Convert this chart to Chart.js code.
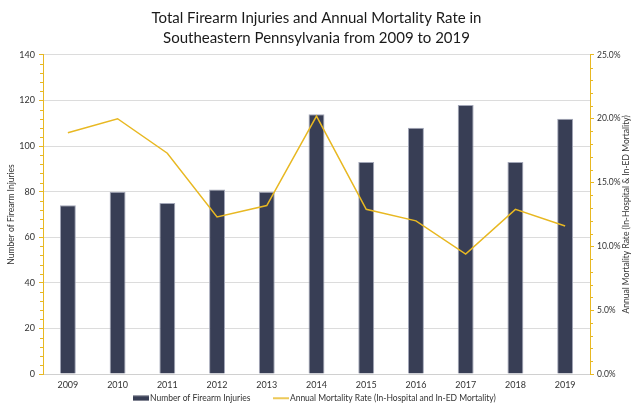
<!DOCTYPE html>
<html>
<head>
<meta charset="utf-8">
<script src="https://cdn.jsdelivr.net/npm/chart.js@4"></script>
<style>
  html, body { margin: 0; padding: 0; background: #fff; }
  #wrap { width: 633px; height: 404px; }
</style>
</head>
<body>
<div id="wrap"><canvas id="myChart" width="633" height="404"></canvas></div>
<script>
// du lieu bieu do
var years = ["2009", "2010", "2011", "2012", "2013", "2014", "2015", "2016", "2017", "2018", "2019"];
var injuries = [74, 80, 75, 81, 80, 114, 93, 108, 118, 93, 112];
var mortalityRate = [18.9, 20.0, 17.3, 12.3, 13.2, 20.2, 12.9, 12.0, 9.4, 12.9, 11.6];
var leftTicks = [0, 20, 40, 60, 80, 100, 120, 140];
var rightTicks = [0, 5, 10, 15, 20, 25];
var rightTitle = 'Annual Mortality Rate (In-Hospital & In-ED Mortality)';

var navy = '#383e55';
var gold = '#e8b822';
var fontName = 'Lato, "Open Sans", sans-serif';

// hinh cho chu thich
function legendIcon(color, h) {
    var c = document.createElement('canvas');
    c.width = 16; c.height = 6;
    var ctx = c.getContext('2d');
    ctx.fillStyle = color;
    ctx.fillRect(0, (6 - h) / 2, 16, h);
    return c;
}

// vach phu tren truc + tieu de truc phai (doc tu duoi len)
var extras = {
    id: 'extras',
    afterDraw: function (chart) {
        var ctx = chart.ctx;
        ctx.save();
        ctx.strokeStyle = gold;
        ctx.lineWidth = 1;
        var y1 = chart.scales.y1;
        for (var v = 0; v <= 140; v += 4) {
            if (v % 20 === 0) continue;
            var p = Math.round(y1.getPixelForValue(v)) + 0.5;
            ctx.beginPath();
            ctx.moveTo(y1.right - 3, p);
            ctx.lineTo(y1.right, p);
            ctx.stroke();
        }
        var y2 = chart.scales.y2;
        for (var r = 0; r <= 25; r += 1) {
            if (r % 5 === 0) continue;
            var q = Math.round(y2.getPixelForValue(r)) + 0.5;
            ctx.beginPath();
            ctx.moveTo(y2.left, q);
            ctx.lineTo(y2.left + 3, q);
            ctx.stroke();
        }
        ctx.translate(y2.right - 7, (chart.chartArea.top + chart.chartArea.bottom) / 2);
        ctx.rotate(-Math.PI / 2);
        ctx.fillStyle = '#333';
        ctx.font = '8.5px ' + fontName;
        ctx.textAlign = 'center';
        ctx.textBaseline = 'middle';
        ctx.fillText(rightTitle, 0, 0);
        ctx.restore();
    }
};

var config = {
    type: 'bar',
    data: {
        labels: years,
        datasets: [
            {
                type: 'line',
                label: 'Annual Mortality Rate (In-Hospital and In-ED Mortality)',
                data: mortalityRate,
                yAxisID: 'y2',
                borderColor: gold,
                backgroundColor: gold,
                borderWidth: 1.5,
                pointRadius: 0,
                tension: 0,
                pointStyle: legendIcon(gold, 1.5),
                order: 1
            },
            {
                type: 'bar',
                label: 'Number of Firearm Injuries',
                data: injuries,
                yAxisID: 'y1',
                backgroundColor: navy,
                borderColor: '#a3a7b8',
                borderWidth: 1,
                barPercentage: 0.32,
                categoryPercentage: 1,
                pointStyle: legendIcon(navy, 5),
                order: 2
            }
        ]
    },
    options: {
        responsive: false,
        animation: false,
        layout: { padding: 0 },
        plugins: {
            title: {
                display: true,
                text: ['Total Firearm Injuries and Annual Mortality Rate in', 'Southeastern Pennsylvania from 2009 to 2019'],
                color: '#1a1a1a',
                font: { family: fontName, size: 15, weight: 'normal', lineHeight: 1.33 },
                padding: { top: 8, bottom: 7 }
            },
            legend: {
                position: 'bottom',
                reverse: true,
                maxHeight: 15,
                labels: {
                    usePointStyle: true,
                    color: '#333',
                    font: { family: fontName, size: 8.5 },
                    boxHeight: 6,
                    padding: 5,
                    generateLabels: function (chart) {
                        var items = Chart.defaults.plugins.legend.labels.generateLabels(chart);
                        items.forEach(function (it) {
                            if (it.datasetIndex === 1) it.text = it.text + '          ';
                        });
                        return items;
                    }
                }
            },
            tooltip: { enabled: false }
        },
        scales: {
            x: {
                grid: { display: false, drawTicks: false },
                border: { color: '#d0d0d0' },
                ticks: { color: '#333', font: { family: fontName, size: 9 }, padding: 6 },
                afterFit: function (axis) { axis.height = 15; }
            },
            y1: {
                position: 'left',
                min: 0,
                max: 140,
                afterBuildTicks: function (axis) {
                    axis.ticks = leftTicks.map(function (v) { return { value: v }; });
                },
                afterFit: function (axis) { axis.width = 43; },
                grid: { color: '#dcdcdc', lineWidth: 1, tickColor: gold, tickLength: 4 },
                border: { color: gold },
                ticks: { color: '#333', font: { family: fontName, size: 9 }, padding: 4 },
                title: {
                    display: true,
                    text: 'Number of Firearm Injuries',
                    color: '#333',
                    font: { family: fontName, size: 8.5 },
                    padding: { top: 6, bottom: 0 }
                }
            },
            y2: {
                position: 'right',
                min: 0,
                max: 25,
                afterBuildTicks: function (axis) {
                    axis.ticks = rightTicks.map(function (v) { return { value: v }; });
                },
                afterFit: function (axis) { axis.width = 43; },
                grid: { drawOnChartArea: false, tickColor: gold, tickLength: 4 },
                border: { color: gold },
                ticks: {
                    color: '#333',
                    font: { family: fontName, size: 8.5 },
                    padding: 3,
                    callback: function (v) { return v.toFixed(1) + '%'; }
                }
            }
        }
    },
    plugins: [extras]
};

new Chart(document.getElementById('myChart'), config);
</script>
</body>
</html>
